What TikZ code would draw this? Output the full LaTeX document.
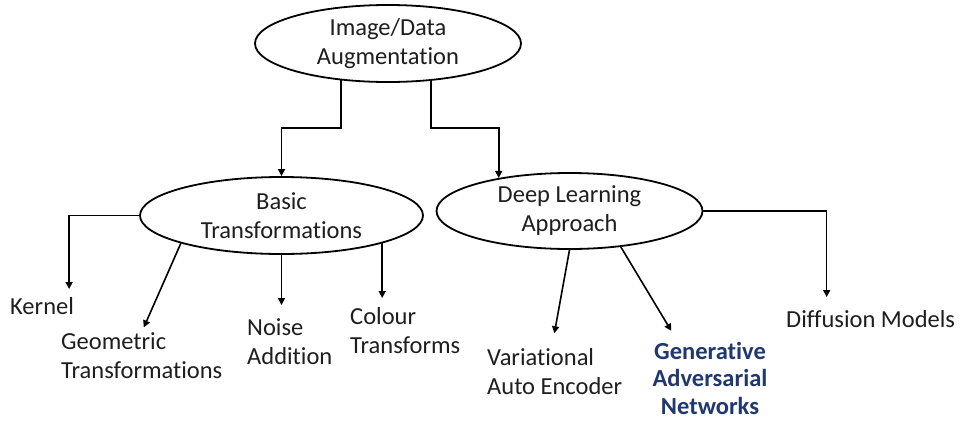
\documentclass[tikz,border=0pt]{standalone}
\usepackage{fontspec}
\setmainfont[Ligatures={NoCommon,NoRequired,NoContextual}]{Carlito}
\usetikzlibrary{shapes.geometric,arrows.meta}
\definecolor{gannavy}{RGB}{32,56,110}
\definecolor{inkgray}{RGB}{30,30,30}

\begin{document}
\begin{tikzpicture}[x=1pt, y=-1pt,
  topic/.style={draw, ellipse, line width=1.8pt, inner sep=0pt, align=center,
    font=\fontsize{24.5}{29}\selectfont, text=inkgray},
  leaf/.style={inner sep=0pt, align=left, font=\fontsize{24.5}{29}\selectfont, text=inkgray},
  link/.style={line width=1.6pt, -{Triangle[length=7pt,width=7pt]}}]
  \fill[white] (0,0) rectangle (961,421);
  \useasboundingbox (0,0) rectangle (961,421);

  % Ellipses
  \node[topic, minimum width=266, minimum height=77] (aug) at (388,43.5) {Image/Data\\Augmentation};
  \node[topic, minimum width=283, minimum height=77] (basic) at (281.5,215.5) {Basic\\Transformations};
  \node[topic, minimum width=266, minimum height=76] (deep) at (569.5,211) {Deep Learning\\Approach};

  % Leaves
  \node[leaf, anchor=north west] (kernel) at (10,297) {Kernel};
  \node[leaf, anchor=north west] (geo) at (61,332) {Geometric\\Transformations};
  \node[leaf, anchor=north west] (noise) at (247,318) {Noise\\Addition};
  \node[leaf, anchor=north west] (colour) at (350,307) {Colour\\Transforms};
  \node[leaf, anchor=north west] (vae) at (487,348) {Variational\\Auto Encoder};
  \node[leaf, anchor=north, align=center, text=gannavy, font=\fontsize{24.5}{27.5}\selectfont\bfseries] (gan) at (710,342) {Generative\\Adversarial\\Networks};
  \node[leaf, anchor=north west] (diff) at (786,310) {Diffusion Models};

  % Split from the top
  \coordinate (split) at (388,128);
  \draw[link] (aug.-142) -- (aug.-142 |- split) -| (basic.north);
  \draw[link] (aug.-41) -- (aug.-41 |- split) -| (deep.155);

  % Basic transformations
  \draw[link, shorten >=8pt] (basic.west) -| ([xshift=-5pt]kernel.north east);
  \draw[link, shorten >=5pt] (basic.south west) -- (geo.north);
  \draw[link, shorten >=13pt] (basic.south) -- (basic.south |- noise.north);
  \draw[link, shorten >=9pt] (basic.south east) -- (basic.south east |- colour.north);

  % Deep learning approach
  \draw[link, shorten >=15pt] (deep.south) -- ([xshift=-3pt]vae.north);
  \draw[link, shorten >=13pt] (deep.-35) -- ([xshift=-32pt]gan.north);
  \draw[link, shorten >=13pt] (deep.east) -| ([xshift=-44pt]diff.north);
\end{tikzpicture}
\end{document}
